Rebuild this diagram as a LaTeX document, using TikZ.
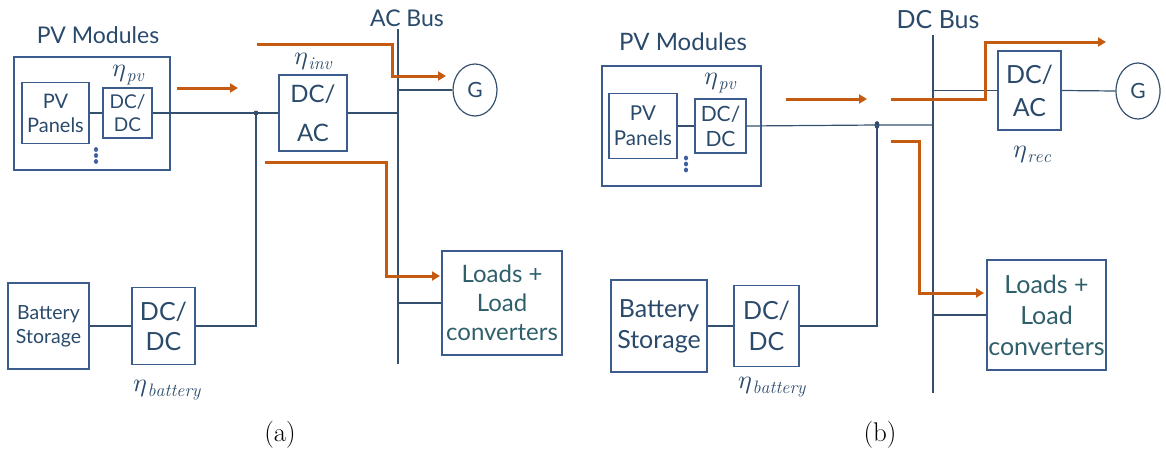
\documentclass[tikz,border=0pt]{standalone}
\usepackage{fontspec}
\usepackage{unicode-math}
\newfontfamily\lato{Lato}
\usetikzlibrary{arrows.meta,shapes.geometric}
\definecolor{txtc}{HTML}{2A4A6B}
\definecolor{loadtxt}{HTML}{2E5F6B}
\definecolor{boxc}{HTML}{3B5C8C}
\definecolor{wirec}{HTML}{34506E}
\definecolor{flowc}{HTML}{C55A11}
\definecolor{dotc}{HTML}{3F5FA0}
\newcommand{\fs}[2]{\fontsize{#1}{#2}\selectfont}
\newcommand{\etasub}[1]{{\fs{26}{28}$\eta$}\kern0.5pt\raisebox{-4.5pt}{\fs{18}{20}$\mathit{#1}$}}
\tikzset{
  box/.style={draw=boxc, line width=1.3pt, inner sep=0pt, align=center, text=txtc},
  wire/.style={draw=wirec, line width=1.2pt},
  flow/.style={draw=flowc, line width=3pt, -{Triangle[length=8pt,width=9pt]}},
  lbl/.style={text=txtc, inner sep=0pt},
  gen/.style={ellipse, draw=wirec, line width=1.2pt, inner sep=0pt, text=txtc},
  jdot/.style={ellipse, fill=wirec, inner sep=0pt},
  pdot/.style={ellipse, fill=dotc, inner sep=0pt, minimum width=4.2pt, minimum height=4.8pt},
  subcap/.style={inner sep=0pt, font=\rmfamily\fs{27}{30}}
}
\begin{document}
\begin{tikzpicture}[x=1pt,y=-1pt]
\useasboundingbox (0,0) rectangle (1166,455);
% ================= panel (a) =================
\node[lbl, font=\lato\fs{23}{27}] (pvAl) at (98,35) {PV Modules};
\node[box, minimum width=156pt, minimum height=113pt] (pvA) at (92,113.5) {};
\node[box, minimum width=67pt, minimum height=61pt, font=\lato\fs{20}{24}] (panA) at (55.5,113) {PV\\Panels};
\node[box, minimum width=49pt, minimum height=50pt, font=\lato\fs{19}{23}] (dcA) at (127.5,113) {DC/\\DC};
\node[lbl] (etapvA) at (128,75) {\etasub{pv}};
\node[pdot] (d1A) at (96,149.5) {};
\node[pdot] (d2A) at (96,155.5) {};
\node[pdot] (d3A) at (96,161.5) {};
\node[box, minimum width=68pt, minimum height=76pt, font=\lato\fs{24}{39}] (invA) at (313,113) {DC/\\AC};
\node[lbl] (etainvA) at (313,62) {\etasub{inv}};
\node[jdot, minimum width=5pt, minimum height=5pt] (jA) at (256,113) {};
\coordinate (busAt) at (398,29);
\coordinate (busAb) at (398,364);
\node[lbl, font=\lato\fs{23}{27}] (busAl) at (407,18) {AC Bus};
\node[gen, minimum width=44pt, minimum height=52pt, font=\lato\fs{21}{24}] (gA) at (475,90) {G};
\node[box, minimum width=81pt, minimum height=86pt, font=\lato\fs{19.5}{24}] (batA) at (48.5,326) {Battery\\Storage};
\node[box, minimum width=63pt, minimum height=77pt, font=\lato\fs{25}{30}] (dcbA) at (163.5,326) {DC/\\DC};
\node[lbl] (etabA) at (167,390) {\etasub{battery}};
\node[box, minimum width=120pt, minimum height=104pt, text=loadtxt, font=\lato\fs{24}{29}] (loadA) at (502,303) {Loads +\\Load\\converters};
\node[subcap] (capA) at (280,435) {(a)};
% wires
\draw[wire] (busAt) -- (busAb);
\draw[wire] (panA.east) -- (dcA.west);
\draw[wire] (dcA.east) -- (jA.center) -- (invA.west);
\draw[wire] (invA.east) -- (invA.east -| busAt);
\draw[wire] (gA.west -| busAt) -- (gA.west);
\draw[wire] (batA.east) -- (dcbA.west);
\draw[wire] (dcbA.east) -| (jA.center);
\draw[wire] (loadA.west -| busAt) -- (loadA.west);
% flows
\coordinate (fa1s) at (177,88); \coordinate (fa1e) at (238,88);
\draw[flow] (fa1s) -- (fa1e);
\coordinate (fa2s) at (257,44); \coordinate (fa2c) at (392,44); \coordinate (fa2e) at (446,76);
\draw[flow] (fa2s) -- (fa2c) |- (fa2e);
\coordinate (fa3s) at (265,162); \coordinate (fa3c) at (386,162); \coordinate (fa3e) at (440,276);
\draw[flow] (fa3s) -- (fa3c) |- (fa3e);
% ================= panel (b) =================
\node[lbl, font=\lato\fs{24}{28}] (pvBl) at (683,42) {PV Modules};
\node[box, minimum width=159pt, minimum height=120pt] (pvB) at (681.5,126) {};
\node[box, minimum width=68pt, minimum height=65pt, font=\lato\fs{20.5}{25}] (panB) at (643,126) {PV\\Panels};
\node[box, minimum width=51pt, minimum height=54pt, font=\lato\fs{21}{25}] (dcB) at (720.5,126) {DC/\\DC};
\node[lbl] (etapvB) at (720,83) {\etasub{pv}};
\node[pdot] (d1B) at (686,158) {};
\node[pdot] (d2B) at (686,164) {};
\node[pdot] (d3B) at (686,170) {};
\node[jdot, minimum width=5pt, minimum height=8pt] (jB) at (877,125) {};
\coordinate (busBt) at (933,35);
\coordinate (busBb) at (933,393);
\node[lbl, font=\lato\fs{25}{29}] (busBl) at (938,20) {DC Bus};
\node[box, minimum width=63pt, minimum height=79pt, font=\lato\fs{25}{33}] (recB) at (1029.5,90.5) {DC/\\AC};
\node[lbl] (etarecB) at (1032,155) {\etasub{rec}};
\node[gen, minimum width=44pt, minimum height=56pt, font=\lato\fs{21}{24}] (gB) at (1138,91) {G};
\node[box, minimum width=96pt, minimum height=92pt, font=\lato\fs{25}{31}] (batB) at (659,326) {Battery\\Storage};
\node[box, minimum width=65pt, minimum height=81pt, font=\lato\fs{25}{31}] (dcbB) at (766.5,326) {DC/\\DC};
\node[lbl] (etabB) at (772,387) {\etasub{battery}};
\node[box, minimum width=119pt, minimum height=110pt, text=loadtxt, font=\lato\fs{25}{31}] (loadB) at (1046.5,315) {Loads +\\Load\\converters};
\node[subcap] (capB) at (880,435) {(b)};
% wires
\draw[wire] (busBt) -- (busBb);
\draw[wire] (panB.east) -- (dcB.west);
\draw[wire] (dcB.east) -- (jB.center) -- (jB.center -| busBt);
\draw[wire] (recB.west -| busBt) -- (recB.west);
\draw[wire] (recB.east) -- (gB.west);
\draw[wire] (batB.east) -- (dcbB.west);
\draw[wire] (dcbB.east) -| (jB.center);
\draw[wire] (loadB.west -| busBt) -- (loadB.west);
% flows
\coordinate (fb1s) at (786,99); \coordinate (fb1e) at (867,99);
\draw[flow] (fb1s) -- (fb1e);
\coordinate (fb2s) at (891,99); \coordinate (fb2c) at (985,99); \coordinate (fb2e) at (1106,42);
\draw[flow] (fb2s) -- (fb2c) |- (fb2e);
\coordinate (fb3s) at (891,141); \coordinate (fb3c) at (919,141); \coordinate (fb3e) at (984,293);
\draw[flow] (fb3s) -- (fb3c) |- (fb3e);
\end{tikzpicture}
\end{document}
